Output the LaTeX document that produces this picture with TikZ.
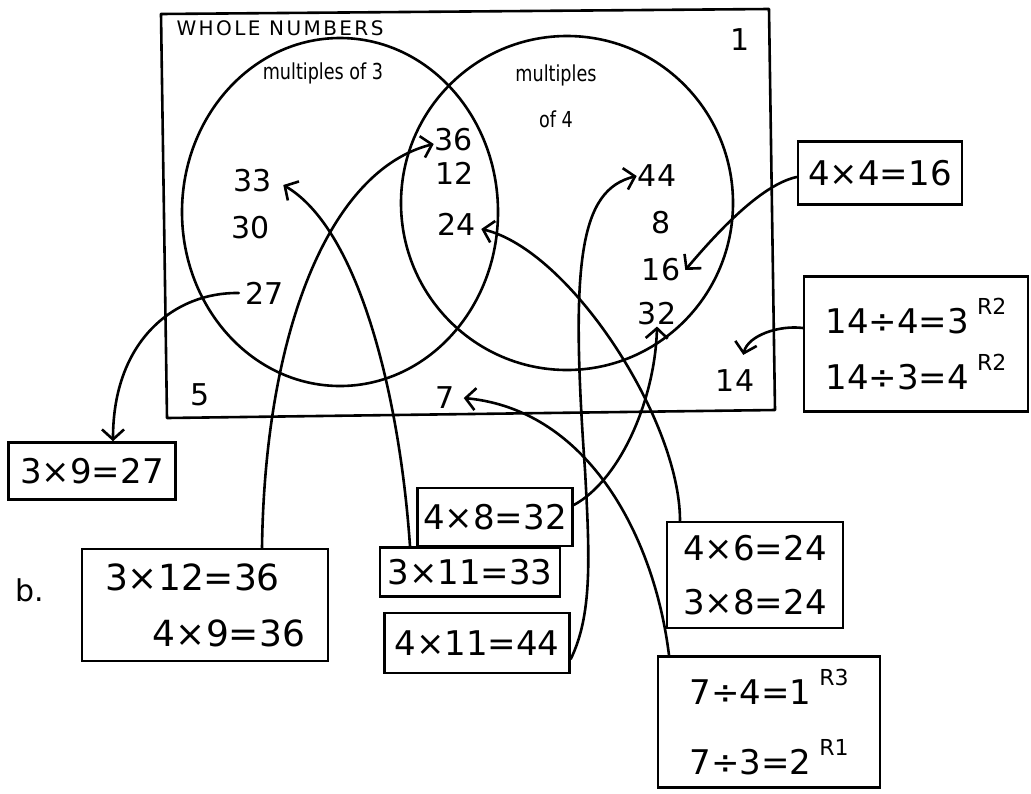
\documentclass[tikz,border=0pt]{standalone}
\usepackage{fontspec}
\setmainfont{DejaVu Sans}
\usetikzlibrary{arrows.meta}
\tikzset{
  ln/.style={line width=2.6pt, line cap=round, line join=round},
  arr/.style={ln, -{Straight Barb[length=10pt,width=22pt,line width=2.6pt]}},
  num/.style={font=\fontsize{30}{34}\selectfont, inner sep=1pt},
  eqbox/.style={draw, line width=2.6pt, inner sep=3pt, align=center},
}
\newcommand{\rem}[1]{\hspace{8pt}\raisebox{19pt}{\fontsize{22}{22}\selectfont #1}}
\newcommand{\eqf}{\fontsize{34}{40}\selectfont}
\begin{document}
\begin{tikzpicture}[x=1pt,y=-1pt]
\useasboundingbox (0,0) rectangle (1031,793);
\fill[white] (0,0) rectangle (1031,793);
% frame of whole numbers
\draw[ln] (161,14) -- (769,9) -- (775,410) -- (167,418) -- cycle;
% circles
\draw[ln] (340,212) ellipse [x radius=158, y radius=174];
\draw[ln] (567,203) ellipse [x radius=166, y radius=167];
% titles
\node[font=\fontsize{20}{20}\selectfont\addfontfeature{LetterSpace=12}] (whole) at (280,28) {WHOLE NUMBERS};
\node[font=\fontsize{22}{22}\selectfont] (m3) at (323,73) {\scalebox{0.8}[1]{multiples of 3}};
\node[font=\fontsize{22}{46}\selectfont, align=center] (m4) at (556,96) {\scalebox{0.8}[1]{multiples}\\\scalebox{0.8}[1]{of 4}};
% numbers
\node[num] (n1) at (740,40) {1};
\node[num] (n33) at (253,181) {33};
\node[num] (n30) at (251,228) {30};
\node[num] (n27) at (265,293) {27};
\node[num] (n36) at (454,140) {36};
\node[num] (n12) at (455,173) {12};
\node[num] (n24) at (457,224) {24};
\node[num] (n44) at (657,176) {44};
\node[num] (n8) at (661,223) {8};
\node[num] (n16) at (661,270) {16};
\node[num] (n32) at (657,314) {32};
\node[num] (n5) at (200,395) {5};
\node[num] (n7) at (445,398) {7};
\node[num] (n14) at (735,381) {14};
\node[num] (lb) at (30,590) {b.};
% boxes
\node[eqbox, font=\eqf, minimum width=164, minimum height=63] (b16) at (880,173) {4×4=16};
\node[eqbox, font=\eqf, minimum width=224, minimum height=135] (b14) at (916,344) {14÷4=3\rem{R2}\\[16pt]14÷3=4\rem{R2}};
\node[eqbox, font=\eqf, minimum width=167, minimum height=57] (b27) at (92,471) {3×9=27};
\node[eqbox, font=\fontsize{36}{42}\selectfont, minimum width=246, minimum height=112, align=right] (b36) at (205,605) {3×12=36\hspace*{25pt}\\[14pt]4×9=36};
\node[eqbox, font=\eqf, minimum width=155, minimum height=58] (b32) at (495,517) {4×8=32};
\node[eqbox, font=\eqf, minimum width=180, minimum height=49] (b33) at (470,572) {3×11=33};
\node[eqbox, font=\eqf, minimum width=185, minimum height=60] (b44) at (477,643) {4×11=44};
\node[eqbox, font=\eqf, minimum width=176, minimum height=106] (b24) at (755,575) {4×6=24\\[14pt]3×8=24};
\node[eqbox, font=\eqf, minimum width=222, minimum height=131] (b7) at (769,722) {7÷4=1\rem{R3}\\[30pt]7÷3=2\rem{R1}};
% connectors
\draw[arr] ([xshift=-6pt]n27.west) .. controls (175,292) and (113,340) .. ([xshift=21pt]b27.north);
\draw[arr] ([xshift=57pt]b36.north) .. controls (265,330) and (330,170) .. ([yshift=-4pt]n36.west);
\draw[arr] ([xshift=-60pt]b33.north) .. controls (400,400) and (360,230) .. ([xshift=10pt,yshift=-4pt]n33.east);
\draw[arr] ([yshift=12pt]b32.east) .. controls (620,480) and (655,400) .. (n32.south);
\draw[arr] ([yshift=-16pt]b44.east) .. controls (592,615) and (590,560) .. (585,470) .. controls (570,260) and (580,190) .. (n44.west);
\draw[arr] ([xshift=-75pt]b24.north) .. controls (680,420) and (570,250) .. ([xshift=4pt,yshift=-5pt]n24.east);
\draw[arr] ([xshift=-100pt]b7.north) .. controls (655,540) and (590,410) .. ([xshift=8pt]n7.east);
\draw[arr] ([yshift=-4pt]b16.west) .. controls (760,185) and (715,235) .. ([xshift=4pt]n16.east);
\draw[arr] ([yshift=16pt]b14.west) .. controls (780,325) and (748,335) .. ([xshift=-12pt,yshift=14pt]n14.north east);
\end{tikzpicture}
\end{document}
